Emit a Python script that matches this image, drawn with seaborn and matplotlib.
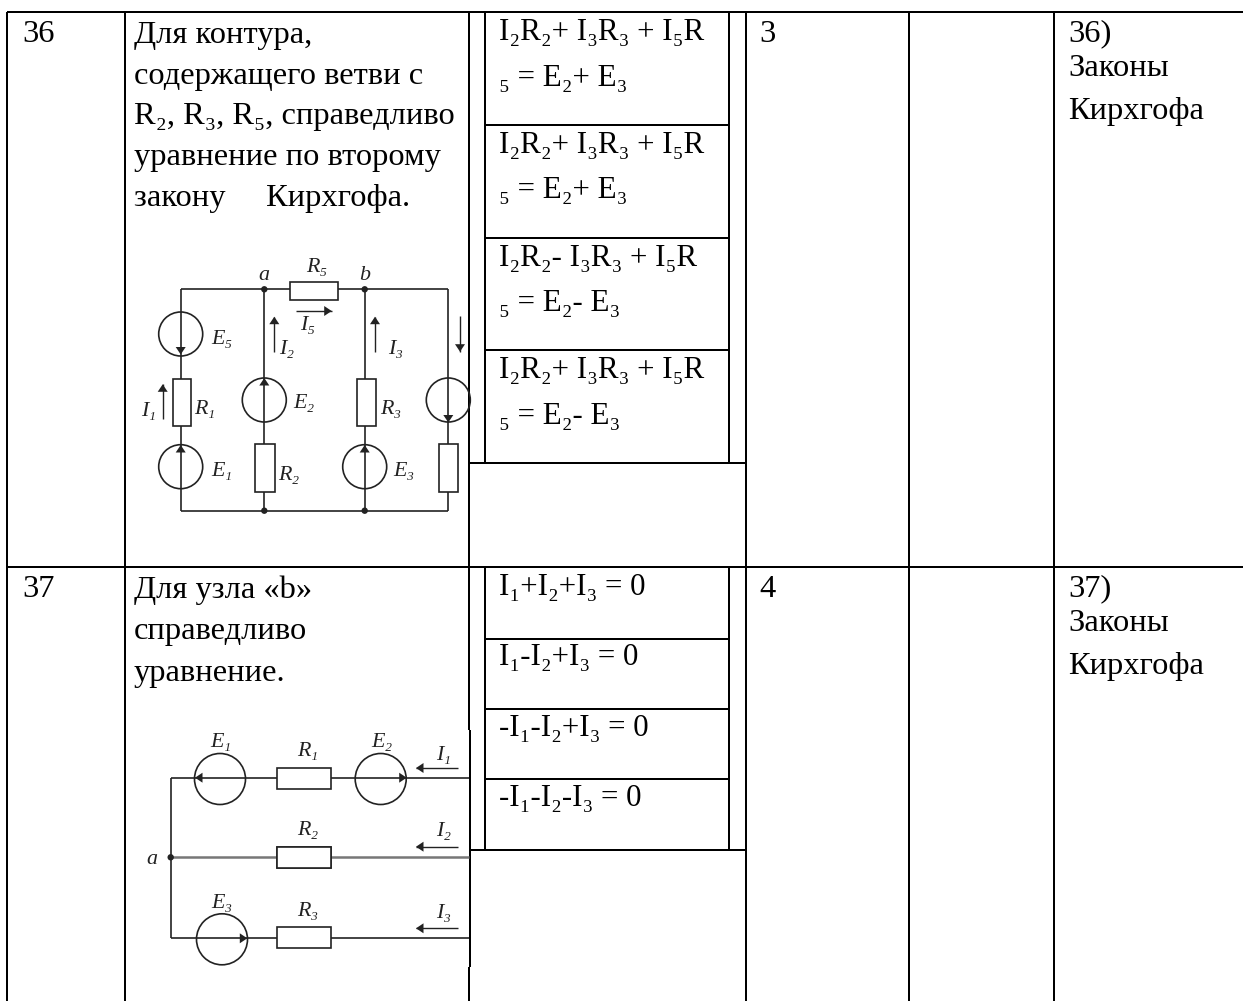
import matplotlib
matplotlib.use("Agg")
import matplotlib.pyplot as plt
from matplotlib.patches import Circle, Rectangle, Polygon
import pandas as pd
import seaborn as sns

W, H = 1243, 1001
INK = "#000000"
WIRE = "#222222"

# ---- table rules (x0, y0, x1, y1) ----
grid_rules = [
    (7.5, 12, 1243, 12), (7.5, 566.7, 1243, 566.7),
    (7.5, 12, 7.5, 1001), (125, 12, 125, 1001),
    (908.7, 12, 908.7, 1001), (1054, 12, 1054, 1001),
    (746, 12, 746, 1001),
    (468.7, 12, 468.7, 730), (469.7, 730, 469.7, 967), (468.7, 967, 468.7, 1001),
    (468.7, 463, 746, 463), (468.7, 850, 746, 850),
    (485, 12, 485, 463), (729.5, 12, 729.5, 463),
    (485, 567, 485, 850), (729.5, 567, 729.5, 850),
    (485, 125, 729.5, 125), (485, 238, 729.5, 238), (485, 350, 729.5, 350),
    (485, 639, 729.5, 639), (485, 709, 729.5, 709), (485, 779, 729.5, 779),
]

# ---- table text ----
row_numbers = [("36", 22.5, 42), ("37", 22.5, 597)]
answers = [("3", 759.5, 42), ("4", 759.5, 597)]
question_36 = ["Для контура,", "содержащего ветви с", "R₂, R₃, R₅, справедливо",
               "уравнение по второму", "закону     Кирхгофа."]
question_36_y = [43, 84, 124, 165, 206]
question_37 = ["Для узла «b»", "справедливо", "уравнение."]
question_37_y = [598, 639, 681]
topic_36 = ["36)", "Законы", "Кирхгофа"]
topic_36_y = [41, 76, 119]
topic_37 = ["37)", "Законы", "Кирхгофа"]
topic_37_y = [596, 631, 674]
options = [
    ("I₂R₂+ I₃R₃ + I₅R", 499, 40), ("₅ = E₂+ E₃", 499, 86),
    ("I₂R₂+ I₃R₃ + I₅R", 499, 153), ("₅ = E₂+ E₃", 499, 198),
    ("I₂R₂- I₃R₃ + I₅R", 499, 266), ("₅ = E₂- E₃", 499, 311),
    ("I₂R₂+ I₃R₃ + I₅R", 499, 378), ("₅ = E₂- E₃", 499, 424),
    ("I₁+I₂+I₃ = 0", 499, 595), ("I₁-I₂+I₃ = 0", 499, 665),
    ("-I₁-I₂+I₃ = 0", 499, 736), ("-I₁-I₂-I₃ = 0", 499, 806),
]

# ---- circuit 1 ----
c1_wires = [
    (180.7, 289.3, 290, 289.3), (337.7, 289.3, 448.3, 289.3),
    (180.7, 510.7, 448.3, 510.7),
    (180.7, 289.3, 180.7, 379), (180.7, 426.3, 180.7, 510.7),
    (264.3, 289.3, 264.3, 444.3), (264.3, 491.7, 264.3, 510.7),
    (364.7, 289.3, 364.7, 379), (364.7, 426.3, 364.7, 510.7),
    (448.3, 289.3, 448.3, 444.3), (448.3, 491.7, 448.3, 510.7),
]
c1_resistors = [(290, 281.7, 47.7, 18), (173, 379, 18.3, 47.3), (255.3, 444.3, 19.4, 47.4),
                (357, 379, 19.3, 47.3), (439.3, 444.3, 19, 47.4)]
c1_sources = [(180.7, 334, 22), (180.7, 466.7, 22), (264.3, 400, 22), (364.7, 466.7, 22), (448.3, 400, 22)]
c1_heads = [(180.7, 354.5, "d"), (180.7, 445, "u"), (264.3, 378, "u"), (364.7, 445, "u"), (448.3, 422.5, "d")]
c1_nodes = [(264.3, 289.3), (364.7, 289.3), (264.3, 510.7), (364.7, 510.7)]
c1_arrows = [(295.7, 311, 331.7, 311), (274.3, 351.7, 274.3, 316.7), (375, 351.7, 375, 316.7),
             (162.7, 419, 162.7, 384.3), (460, 315.7, 460, 351.7)]
c1_labels = [("a", 263.5, 275), ("b", 364.5, 275), ("R₅", 317, 267), ("I₅", 308, 325), ("E₅", 222, 339),
             ("I₂", 287, 349), ("I₃", 396, 349), ("E₂", 304, 404), ("R₁", 205, 409), ("I₁", 149, 412),
             ("R₃", 391, 410), ("E₁", 222, 472), ("R₂", 289, 475), ("E₃", 404, 472)]

# ---- circuit 2 ----
c2_wires = [
    (170.7, 777.7, 170.7, 938.3),
    (170.7, 777.7, 277, 777.7), (331, 777.7, 469, 777.7),
    (170.7, 938.3, 277, 938.3), (331, 938.3, 469, 938.3),
]
c2_grey_wires = [(170.7, 857, 277, 857), (331, 857, 469, 857)]
c2_resistors = [(277, 768, 54, 21.3), (277, 846.7, 54, 21.3), (277, 926.7, 54, 21.6)]
c2_sources = [(220, 779, 25.5), (380.7, 779, 25.5), (222, 939.3, 25.5)]
c2_heads = [(195, 777.7, "l"), (406.7, 777.7, "r"), (247.3, 938.3, "r")]
c2_nodes = [(170.7, 857.3)]
c2_arrows = [(457.7, 768, 416, 768), (457.7, 846.7, 416, 846.7), (457.7, 928.3, 416, 928.3)]
c2_labels = [("E₁", 220.7, 742.7), ("R₁", 307.7, 752), ("E₂", 381.7, 742.7), ("I₁", 443.3, 755),
             ("R₂", 307.7, 830.7), ("I₂", 443.3, 831.7), ("a", 151.7, 860), ("E₃", 221.7, 903.3),
             ("R₃", 307.7, 911.7), ("I₃", 443.3, 913.3)]

sns.set_theme(style="white")
plt.rcParams["font.family"] = ["Liberation Serif", "DejaVu Serif"]

fig = plt.figure(figsize=(W / 100, H / 100), dpi=100, facecolor="white")
ax = fig.add_axes([0, 0, 1, 1])
ax.set_xlim(0, W)
ax.set_ylim(H, 0)
ax.axis("off")


def segments(segs, color, lw, zorder):
    df = pd.DataFrame(
        [{"seg": i, "x": p[0], "y": p[1]} for i, s in enumerate(segs) for p in ((s[0], s[1]), (s[2], s[3]))]
    )
    sns.lineplot(data=df, x="x", y="y", units="seg", estimator=None, sort=False,
                 color=color, lw=lw, ax=ax, legend=False, zorder=zorder, solid_capstyle="butt")


segments(grid_rules, INK, 2.0 * 0.72, 3)

TXT = 32.5 * 0.72   # px -> pt at dpi 100
OPT = 31 * 0.72
for s, x, y in row_numbers + answers:
    ax.text(x, y, s, fontsize=TXT, color=INK, va="baseline", ha="left")
for lines, ys in ((question_36, question_36_y), (question_37, question_37_y)):
    for s, y in zip(lines, ys):
        ax.text(134, y, s, fontsize=TXT, color=INK, va="baseline", ha="left")
for lines, ys in ((topic_36, topic_36_y), (topic_37, topic_37_y)):
    for s, y in zip(lines, ys):
        ax.text(1068.5, y, s, fontsize=TXT, color=INK, va="baseline", ha="left")
for s, x, y in options:
    ax.text(x, y, s, fontsize=OPT, color=INK, va="baseline", ha="left")

clip = Rectangle((0, 0), 467, H, transform=ax.transData)


def head(x, y, d, size=6.5):
    v = {"u": (0, 1), "d": (0, -1), "l": (1, 0), "r": (-1, 0)}[d]
    bx, by = x + v[0] * size * 1.5, y + v[1] * size * 1.5
    pts = [(x, y), (bx + v[1] * size, by + v[0] * size), (bx - v[1] * size, by - v[0] * size)]
    ax.add_patch(Polygon(pts, closed=True, fc=WIRE, ec="none", zorder=6, clip_path=clip))


for wires, res, src, heads, nodes, arrows, labels in (
    (c1_wires, c1_resistors, c1_sources, c1_heads, c1_nodes, c1_arrows, c1_labels),
    (c2_wires, c2_resistors, c2_sources, c2_heads, c2_nodes, c2_arrows, c2_labels),
):
    segments(wires, WIRE, 1.2, 4)
    for x, y, w, h in res:
        ax.add_patch(Rectangle((x, y), w, h, fc="none", ec=WIRE, lw=1.2, zorder=5))
    for x, y, r in src:
        ax.add_patch(Circle((x, y), r, fc="none", ec=WIRE, lw=1.2, zorder=5, clip_path=clip))
    for x, y, d in heads:
        head(x, y, d, 5)
    for x, y in nodes:
        ax.add_patch(Circle((x, y), 3.2, fc=WIRE, ec="none", zorder=6))
    for x0, y0, x1, y1 in arrows:
        segments([(x0, y0, x1, y1)], WIRE, 1.0, 5)
        d = "r" if x1 > x0 else "l" if x1 < x0 else "d" if y1 > y0 else "u"
        head(x1, y1, d, 5)
    for s, x, y in labels:
        ax.text(x, y, s, fontsize=22 * 0.72, style="italic", color="#222222", ha="center", va="center")

segments(c2_grey_wires, "#777777", 1.8, 4)
for x, y, w, h in c2_resistors[1:2]:
    ax.add_patch(Rectangle((x, y), w, h, fc="white", ec=WIRE, lw=1.2, zorder=5))

fig.savefig("out.png", dpi=100, facecolor="white")
